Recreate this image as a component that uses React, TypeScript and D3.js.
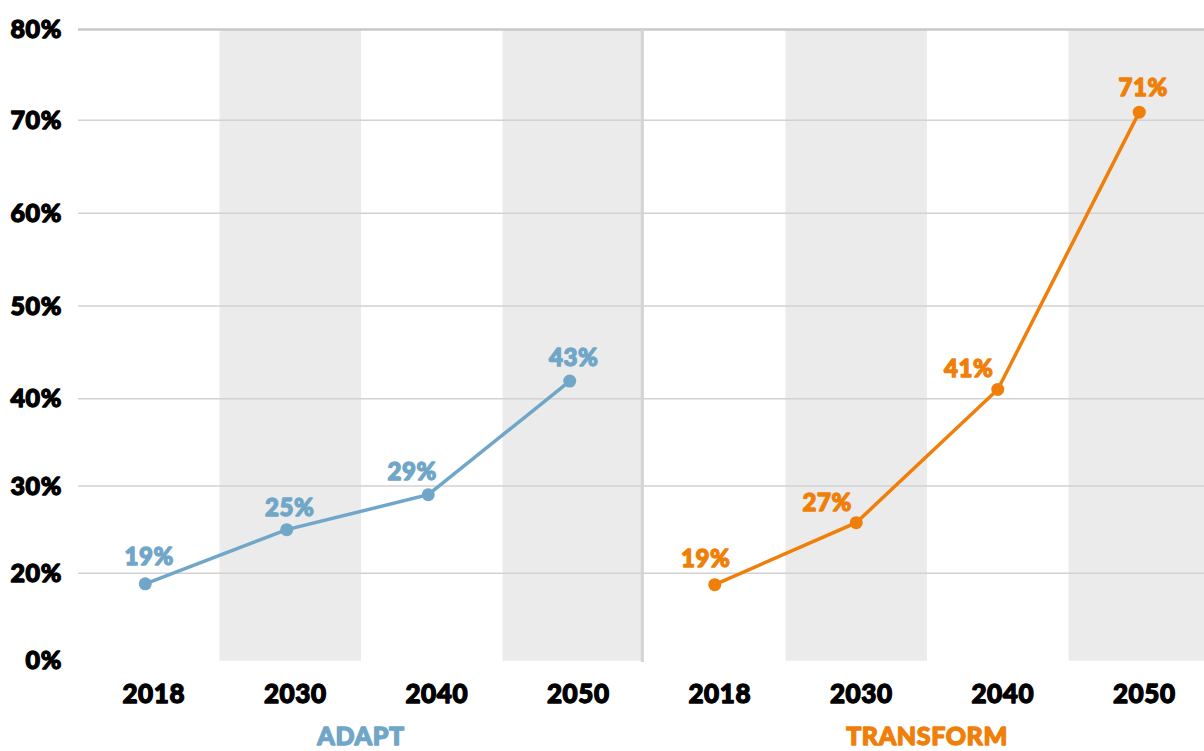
import React from "react";
import * as d3 from "d3";

const years = ["2018", "2030", "2040", "2050"];
const panels = ["ADAPT", "TRANSFORM"];
const adaptValues = [18.8, 25, 29, 41.9];
const transformValues = [18.7, 25.8, 41, 70.9];
const adaptLabels = ["19%", "25%", "29%", "43%"];
const transformLabels = ["19%", "27%", "41%", "71%"];
const yTickValues = [10, 20, 30, 40, 50, 60, 70, 80];
const yTickLabels = ["0%", "20%", "30%", "40%", "50%", "60%", "70%", "80%"];
const shadedYears = ["2030", "2050"];

const W = 1204;
const H = 751;
const FONT = "Lato, 'Open Sans', 'Liberation Sans', sans-serif";
const colors = ["#70A6C8", "#F07F09"];
// styling: horizontal nudge of points within each panel, and label offsets
const pointShift = [-3.5, 0];
const labelOffsets = [
  [[4, -19], [3, -14], [-16, -15], [4, -15]],
  [[-9, -18], [-29, -12], [-29, -12], [4, -16]],
];

const heavy = (color: string) => ({
  fill: color,
  stroke: color,
  strokeWidth: 1.3,
  strokeLinejoin: "round" as const,
  fontWeight: 900,
  letterSpacing: 0.6,
});

export default function App() {
  const plotTop = 29.5;
  const plotBottom = 660.7;
  const left = 78;
  const panelW = 141.5 * 4;
  // polylinear scale matching the reference's gridline spacing
  const y = d3
    .scaleLinear()
    .domain(yTickValues)
    .range([660.7, 573.3, 486, 398.7, 306, 213.3, 120.3, 29.5]);
  const panelScale = d3.scaleBand().domain(panels).range([left, left + panelW * 2]).padding(0);
  const series = [
    { values: adaptValues, labels: adaptLabels },
    { values: transformValues, labels: transformLabels },
  ];

  return (
    <svg
      width={W}
      height={H}
      style={{ position: "absolute", left: 0, top: 0, background: "#fff" }}
      fontFamily={FONT}
    >
      {panels.map((p) => {
        const x0 = panelScale(p)!;
        const x = d3.scaleBand().domain(years).range([x0, x0 + panelW]);
        return (
          <g key={p}>
            {shadedYears.map((yr) => (
              <rect
                key={yr}
                x={x(yr)}
                y={plotTop}
                width={x.bandwidth()}
                height={plotBottom - plotTop}
                fill="#ebebeb"
              />
            ))}
          </g>
        );
      })}
      {yTickValues.slice(1).map((v) => (
        <line
          key={v}
          x1={left}
          x2={W}
          y1={y(v)}
          y2={y(v)}
          stroke={v === 80 ? "#c8c8c8" : "#d2d2d2"}
          strokeWidth={v === 80 ? 2.5 : 1.5}
        />
      ))}
      <line x1={642.3} x2={642.3} y1={plotTop} y2={662} stroke="#d4d4d4" strokeWidth={3} />
      {yTickValues.map((v, i) => (
        <text
          key={v}
          x={62}
          y={y(v)}
          dy="0.35em"
          textAnchor="end"
          fontSize={25}
          {...heavy("#000")}
        >
          {yTickLabels[i]}
        </text>
      ))}
      {panels.map((p, pi) => {
        const x0 = panelScale(p)!;
        const x = d3.scaleBand().domain(years).range([x0, x0 + panelW]);
        const cx = (yr: string) => x(yr)! + x.bandwidth() / 2 + pointShift[pi];
        const s = series[pi];
        const line = d3
          .line<number>()
          .x((_, i) => cx(years[i]))
          .y((d) => y(d));
        return (
          <g key={p}>
            {years.map((yr) => (
              <text
                key={yr}
                x={x(yr)! + x.bandwidth() / 2 + 5}
                y={703}
                textAnchor="middle"
                fontSize={26}
                {...heavy("#000")}
              >
                {yr}
              </text>
            ))}
            <text
              x={x0 + panelW / 2}
              y={745}
              textAnchor="middle"
              fontSize={25}
              {...heavy(colors[pi])}
            >
              {p}
            </text>
            <path d={line(s.values) ?? ""} fill="none" stroke={colors[pi]} strokeWidth={3.5} />
            {s.values.map((v, i) => (
              <circle key={i} cx={cx(years[i])} cy={y(v)} r={6.5} fill={colors[pi]} />
            ))}
            {s.values.map((v, i) => (
              <text
                key={"l" + i}
                x={cx(years[i]) + labelOffsets[pi][i][0]}
                y={y(v) + labelOffsets[pi][i][1]}
                textAnchor="middle"
                fontSize={24}
                {...heavy(colors[pi])}
              >
                {s.labels[i]}
              </text>
            ))}
          </g>
        );
      })}
    </svg>
  );
}
